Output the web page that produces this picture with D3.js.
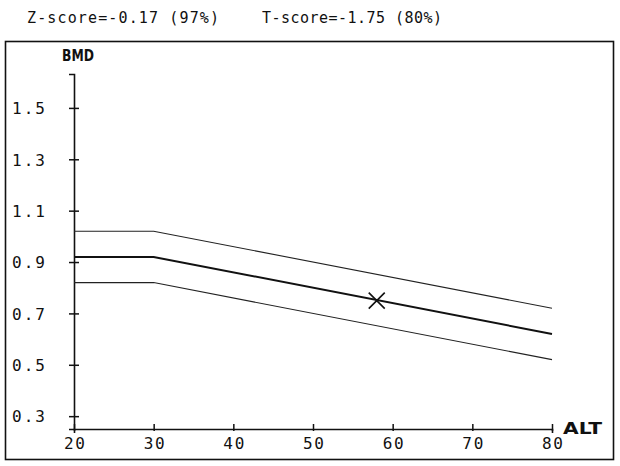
<!DOCTYPE html>
<html>
<head>
<meta charset="utf-8">
<script src="https://cdn.jsdelivr.net/npm/d3@7"></script>
<style>
body { margin: 0; background: #fff; }
text { font-family: "DejaVu Sans Mono", "Liberation Mono", monospace; fill: #111; }
</style>
</head>
<body>
<div id="chartContainer"></div>
<script>
// reference curve (age -> BMD)
var ages = [20, 30, 80];
var meanBMD = [0.92, 0.92, 0.62];
var upperBMD = [1.02, 1.02, 0.72];
var lowerBMD = [0.82, 0.82, 0.52];
// patient measurement
var patientAge = [58];
var patientBMD = [0.75];
// axes
var xTicks = [20, 30, 40, 50, 60, 70, 80];
var yTicks = [0.3, 0.5, 0.7, 0.9, 1.1, 1.3, 1.5];
var header = ["Z-score=-0.17 (97%)", "T-score=-1.75 (80%)"];

var svg = d3.select("#chartContainer").append("svg")
  .attr("width", 620).attr("height", 466);

// header line
svg.append("text").attr("x", 27).attr("y", 23)
  .style("font-size", "15px").attr("textLength", 192)
  .text(header[0]);
svg.append("text").attr("x", 262).attr("y", 23)
  .style("font-size", "15px").attr("textLength", 180)
  .text(header[1]);

// frame
svg.append("rect")
  .attr("x", 5.5).attr("y", 41.5).attr("width", 608).attr("height", 418)
  .attr("fill", "none").attr("stroke", "#111").attr("stroke-width", 1.6);

var x = d3.scaleLinear().domain([20, 80]).range([74, 552]);
var y = d3.scaleLinear().domain([0.25, 1.632]).range([429, 74]);

// y axis
var yAxis = svg.append("g").attr("transform", "translate(74,0)")
  .call(d3.axisLeft(y).tickValues(yTicks).tickSize(5).tickFormat(d3.format(".1f")));
yAxis.select(".domain").attr("stroke", "#111").attr("stroke-width", 1.6);
yAxis.selectAll(".tick line").attr("x1", -5).attr("x2", 5).attr("stroke", "#111").attr("stroke-width", 1.5);
yAxis.selectAll(".tick text")
  .attr("x", -62).attr("text-anchor", "start").attr("dy", "0.36em")
  .style("font-size", "16px").attr("textLength", 33);

// x axis
var xAxis = svg.append("g").attr("transform", "translate(0,429)")
  .call(d3.axisBottom(x).tickValues(xTicks).tickSize(4));
xAxis.select(".domain").attr("stroke", "#111").attr("stroke-width", 1.6);
xAxis.selectAll(".tick line").attr("y1", -5).attr("y2", 2).attr("stroke", "#111").attr("stroke-width", 1.5);
xAxis.selectAll(".tick text")
  .attr("y", 9).attr("dy", "0.71em")
  .style("font-size", "16px").attr("textLength", 21);

// axis titles
svg.append("text").attr("x", 62).attr("y", 61)
  .style("font-family", "'DejaVu Sans', sans-serif")
  .style("font-size", "15px").style("font-weight", "bold")
  .attr("textLength", 32).attr("lengthAdjust", "spacingAndGlyphs")
  .text("BMD");
svg.append("text").attr("x", 563).attr("y", 434)
  .style("font-family", "'DejaVu Sans', sans-serif")
  .style("font-size", "16px").style("font-weight", "bold")
  .attr("textLength", 39).attr("lengthAdjust", "spacingAndGlyphs")
  .text("ALT");

// reference curves
var line = d3.line().x(function (d) { return x(d[0]); }).y(function (d) { return y(d[1]); });
function pts(vals) { return ages.map(function (a, i) { return [a, vals[i]]; }); }

svg.append("path").attr("d", line(pts(upperBMD)))
  .attr("fill", "none").attr("stroke", "#222").attr("stroke-width", 1.1);
svg.append("path").attr("d", line(pts(lowerBMD)))
  .attr("fill", "none").attr("stroke", "#222").attr("stroke-width", 1.1);
svg.append("path").attr("d", line(pts(meanBMD)))
  .attr("fill", "none").attr("stroke", "#111").attr("stroke-width", 2);

// patient marker (X)
patientAge.forEach(function (a, i) {
  var cx = x(a), cy = y(patientBMD[i]), r = 8;
  svg.append("path")
    .attr("d", "M" + (cx - r) + "," + (cy + r) + "L" + (cx + r) + "," + (cy - r) +
               "M" + (cx - r) + "," + (cy - r) + "L" + (cx + r) + "," + (cy + r))
    .attr("stroke", "#111").attr("stroke-width", 1.6).attr("fill", "none");
});
</script>
</body>
</html>
